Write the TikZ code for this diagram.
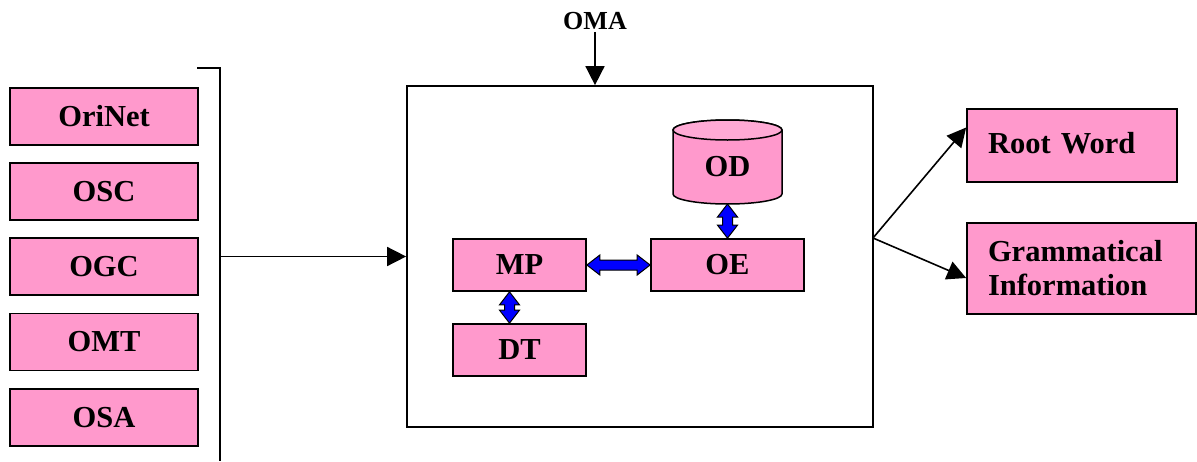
\documentclass[tikz,border=0pt]{standalone}
\usepackage{fontspec}
\setmainfont{Liberation Serif}
\usetikzlibrary{arrows.meta,calc}
\definecolor{pinkc}{HTML}{FF99CC}
\definecolor{pinktop}{HTML}{FFAAD5}
\newcommand\bluehz[2]{\draw[barrow] (#1) -- ++(13,-10) -- ++(0,5) -- ($(#2)+(-13,-5)$) -- ++(0,-5) -- (#2) -- ++(-13,10) -- ++(0,-5) -- ($(#1)+(13,5)$) -- ++(0,5) -- cycle;}
\newcommand\bluevt[2]{\draw[barrow] (#1) -- ++(-10,13) -- ++(5,0) -- ($(#2)+(-5,-13)$) -- ++(-5,0) -- (#2) -- ++(10,-13) -- ++(-5,0) -- ($(#1)+(5,13)$) -- ++(5,0) -- cycle;}
\begin{document}
\begin{tikzpicture}[x=1pt,y=-1pt,
  box/.style={draw=black, line width=1.7pt, fill=pinkc, font=\fontsize{30.5}{34}\selectfont\bfseries, inner sep=0pt},
  conn/.style={line width=1.6pt, -{Triangle[length=19pt,width=19pt]}},
  barrow/.style={draw=black, line width=1pt, fill=blue}]
\useasboundingbox (0,0) rectangle (1197,461);
% left boxes
\node[box, minimum width=188, minimum height=57] (orinet) at (104,116.5) {OriNet};
\node[box, minimum width=188, minimum height=57] (osc) at (104,191.5) {OSC};
\node[box, minimum width=188, minimum height=57] (ogc) at (104,266.5) {OGC};
\node[box, minimum width=188, minimum height=57] (omt) at (104,342) {OMT};
\node[box, minimum width=188, minimum height=57] (osa) at (104,417.5) {OSA};
% bracket
\coordinate (bl) at (197,68);
\coordinate (bt) at (220,68);
\coordinate (bb) at (220,461);
\draw[line width=1.6pt] (bl) -- (bt) -- (bb);
% main box
\node[draw, line width=1.7pt, minimum width=466, minimum height=341, inner sep=0pt] (main) at (640,256.5) {};
\coordinate (bm) at (220,256.5);
\draw[conn] (bm) -- (main.west);
% OMA
\node[font=\fontsize{26}{30}\selectfont\bfseries, inner sep=0pt] (oma) at (595,21) {OMA};
\draw[conn] ($(oma.south)+(0,2)$) -- (oma.south |- main.north);
% inner boxes
\node[box, minimum width=133, minimum height=52] (mp) at (519.5,265) {MP};
\node[box, minimum width=153, minimum height=52] (oe) at (727.5,265) {OE};
\node[box, minimum width=133, minimum height=52] (dt) at (519.5,350) {DT};
% cylinder OD
\draw[line width=1.5pt, fill=pinkc] (673,130) -- (673,194) arc[start angle=180, end angle=0, x radius=54.5, y radius=10] -- (782,130) arc[start angle=0, end angle=-180, x radius=54.5, y radius=10] -- cycle;
\draw[line width=1.5pt, fill=pinktop] (727.5,130) ellipse[x radius=54.5, y radius=10];
\node[font=\fontsize{30.5}{34}\selectfont\bfseries, inner sep=0pt] (od) at (727.5,167) {OD};
\coordinate (odb) at (727.5,204);
% blue arrows
\bluehz{mp.east}{oe.west}
\bluevt{odb}{oe.north}
\coordinate (mpd1) at ($(mp.south)+(-10,0)$);
\coordinate (mpd2) at ($(dt.north)+(-10,0)$);
\bluevt{mpd1}{mpd2}
% outputs
\node[box, minimum width=210, minimum height=73, text width=168, inner xsep=21pt, align=left] (root) at (1072,145.5) {\raisebox{5pt}{Root Word}};
\node[box, minimum width=229, minimum height=91, text width=187, inner xsep=21pt, align=left] (gram) at (1081.5,268.5) {Grammatical\\Information};
\coordinate (sp) at (873,238);
\draw[conn] (sp) -- ($(root.west)+(0,-18)$);
\draw[conn] (sp) -- ($(gram.west)+(0,9.5)$);
\end{tikzpicture}
\end{document}
